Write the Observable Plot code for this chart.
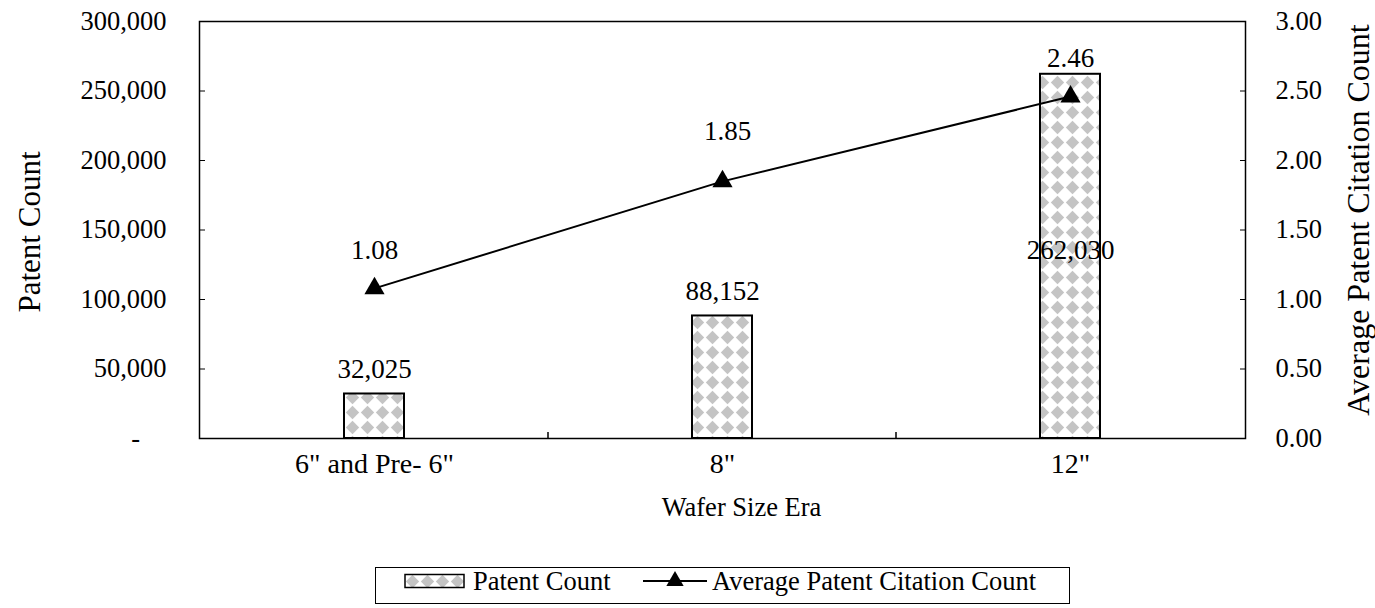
<!DOCTYPE html>
<html><head><meta charset="utf-8">
<script src="https://cdn.jsdelivr.net/npm/d3@7"></script>
<script src="https://cdn.jsdelivr.net/npm/@observablehq/plot@0.6"></script>
<style>
body{margin:0;background:#fff;}
#chart svg{display:block;}
</style></head><body><div id="chart"></div>
<script>
const eras = ['6" and Pre- 6"', '8"', '12"'];
const patentCounts = [32025, 88152, 262030];
const avgCitations = [1.08, 1.85, 2.46];
const leftTicks = [0, 50000, 100000, 150000, 200000, 250000, 300000];
const rightTicks = [0, 0.5, 1.0, 1.5, 2.0, 2.5, 3.0];
const leftMax = 300000, rightMax = 3;
const ratio = leftMax / rightMax;
const xTitle = "Wafer Size Era";
const yTitleLeft = "Patent Count";
const yTitleRight = "Average Patent Citation Count";
const legendLabels = ["Patent Count", "Average Patent Citation Count"];

const rows = eras.map((era, i) => ({era, patents: patentCounts[i], cites: avgCitations[i], citesScaled: avgCitations[i] * ratio, i}));
const fmt = d3.format(",");
const tickFont = 26.5, labelFont = 27;
const FF = "Liberation Serif";

const plot = Plot.plot({
  width: 1375, height: 560,
  marginLeft: 199, marginRight: 130, marginTop: 21, marginBottom: 122,
  style: {fontFamily: FF, fontSize: tickFont + "px", color: "#000", background: "#fff"},
  x: {domain: eras, padding: 0, label: null},
  y: {domain: [0, leftMax], label: null},
  marks: [
    Plot.barY(rows, {x: "era", y: "patents", fill: "url(#diamonds)", stroke: "#000", strokeWidth: 2, insetLeft: 144, insetRight: 144}),
    Plot.line(rows, {x: "era", y: "citesScaled", stroke: "#000", strokeWidth: 2}),
    Plot.dot(rows, {x: "era", y: "citesScaled", symbol: "triangle", r: 7.5, fill: "#000", stroke: "none"}),
    Plot.text(rows.filter(d => d.i < 2), {x: "era", y: "patents", text: d => fmt(d.patents), dy: -25, fontSize: labelFont, fill: "#000"}),
    Plot.text(rows.filter(d => d.i === 2), {x: "era", y: "patents", text: d => fmt(d.patents), dy: 176, fontSize: labelFont, fill: "#000"}),
    Plot.text(rows.filter(d => d.i !== 1), {x: "era", y: "citesScaled", text: d => d.cites.toFixed(2), dy: -38, fontSize: labelFont, fill: "#000"}),
    Plot.text(rows.filter(d => d.i === 1), {x: "era", y: "citesScaled", text: d => d.cites.toFixed(2), dy: -50, dx: 5, fontSize: labelFont, fill: "#000"}),
    Plot.frame({stroke: "#000", strokeWidth: 1.5}),
    Plot.axisY(leftTicks, {anchor: "left", tickSize: 6, dx: 6, tickPadding: 33, fontSize: tickFont, label: null,
      tickFormat: d => d === 0 ? "-\u00a0\u00a0\u00a0\u00a0" : fmt(d)}),
    Plot.axisY(rightTicks.map(d => d * ratio), {anchor: "right", tickSize: 6, dx: -6, tickPadding: 30, fontSize: tickFont, label: null,
      tickFormat: d => (d / ratio).toFixed(2)}),
    Plot.axisX({tickSize: 0, tickPadding: 15, fontSize: 28, label: null}),
    Plot.text([yTitleLeft], {frameAnchor: "left", textAnchor: "middle", lineAnchor: "middle", text: d => d, rotate: -90, dx: -169, dy: 2, fontSize: 31, fill: "#000"}),
    Plot.text([yTitleRight], {frameAnchor: "right", textAnchor: "middle", lineAnchor: "middle", text: d => d, rotate: -90, dx: 113, dy: -10, fontSize: 32, fill: "#000"}),
    Plot.text([xTitle], {frameAnchor: "bottom", textAnchor: "middle", lineAnchor: "middle", text: d => d, dx: 19, dy: 69, fontSize: 26.5, fill: "#000"})
  ]
});

const svg = d3.select(plot);
svg.selectAll("text").attr("font-family", FF).style("font-family", FF);

// pattern definition
const defs = svg.insert("defs", ":first-child");
const pat = defs.append("pattern").attr("id", "diamonds").attr("width", 15).attr("height", 15).attr("patternUnits", "userSpaceOnUse");
pat.append("rect").attr("width", 15).attr("height", 15).attr("fill", "#fff");
pat.append("polygon").attr("points", "7.5,0.8 14.2,7.5 7.5,14.2 0.8,7.5").attr("fill", "#c4c4c4");

// x-axis boundary ticks between categories (inward), from the band scale
const xs = plot.scale("x"), ys = plot.scale("y");
const y0 = ys.apply(0);
const tg = svg.append("g").attr("stroke", "#000").attr("stroke-width", 1.5);
eras.slice(1).forEach(e => {
  const xb = xs.apply(e);
  tg.append("line").attr("x1", xb).attr("x2", xb).attr("y1", y0).attr("y2", y0 - 6);
});

document.getElementById("chart").appendChild(plot);

// legend
const lg = d3.select("#chart").append("svg").attr("width", 1375).attr("height", 48)
  .style("font-family", FF).style("font-size", "26.5px");
const ldefs = lg.append("defs");
const lp = ldefs.append("pattern").attr("id", "diamondsL").attr("width", 15).attr("height", 15).attr("patternUnits", "userSpaceOnUse").attr("x", 405).attr("y", 14);
lp.append("rect").attr("width", 15).attr("height", 15).attr("fill", "#fff");
lp.append("polygon").attr("points", "7.5,0.8 14.2,7.5 7.5,14.2 0.8,7.5").attr("fill", "#c4c4c4");
lg.append("rect").attr("x", 375.5).attr("y", 7.5).attr("width", 694).attr("height", 36).attr("fill", "#fff").attr("stroke", "#000").attr("stroke-width", 1);
lg.append("rect").attr("x", 405).attr("y", 14.5).attr("width", 59).attr("height", 13).attr("fill", "url(#diamondsL)").attr("stroke", "#000").attr("stroke-width", 1.5);
lg.append("text").attr("x", 473).attr("y", 30).attr("font-family", FF).text(legendLabels[0]);
lg.append("line").attr("x1", 643).attr("x2", 707).attr("y1", 21).attr("y2", 21).attr("stroke", "#000").attr("stroke-width", 2);
lg.append("path").attr("d", d3.symbol(d3.symbolTriangle, 130)()).attr("transform", "translate(675,21)").attr("fill", "#000");
lg.append("text").attr("x", 712).attr("y", 30).attr("font-family", FF).text(legendLabels[1]);
</script></body></html>
